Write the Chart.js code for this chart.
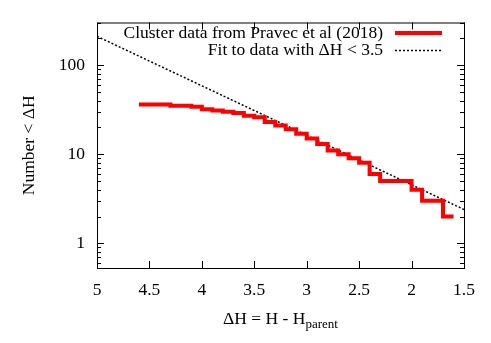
<!DOCTYPE html>
<html>
<head>
<meta charset="utf-8">
<script src="https://cdn.jsdelivr.net/npm/chart.js@4.4.1/dist/chart.umd.min.js"></script>
<style>
  html, body { margin: 0; padding: 0; background: #fff; }
  #wrap { width: 491px; height: 343px; }
</style>
</head>
<body>
<div id="wrap"><canvas id="c"></canvas></div>
<script>
// cumulative count, each level starts at its deltaH and runs to the next one
const stepH = [4.6, 4.3, 4.1, 4.0, 3.9, 3.8, 3.7, 3.6, 3.5, 3.4, 3.3, 3.2, 3.1, 3.0, 2.9, 2.8, 2.7, 2.6, 2.5, 2.4, 2.3, 2.0, 1.9, 1.7, 1.6];
const stepN = [36, 35, 34, 32, 31, 30, 29, 27, 26, 23, 21, 19, 17, 15, 13, 11, 10, 9, 8, 6, 5, 4, 3, 2, 2];
// fit line end points
const fitH = [5, 1.5];
const fitN = [210, 2.4];
const xTicks = [5, 4.5, 4, 3.5, 3, 2.5, 2, 1.5];
const yTicks = [1, 10, 100];
const seriesNames = ['Cluster data from Pravec et al (2018)', 'Fit to data with \u0394H < 3.5'];

const FONT = 'Liberation Serif';
const FS = 17.5;

// gnuplot style frame, inward ticks, legend and x title
const gnuFrame = {
  id: 'gnuFrame',
  afterDraw(chart) {
    const ctx = chart.ctx;
    const a = chart.chartArea;
    const xs = chart.scales.x, ys = chart.scales.y;
    ctx.save();
    ctx.strokeStyle = '#000';
    ctx.lineWidth = 1;
    ctx.strokeRect(a.left + 0.5, a.top + 0.5, a.right - a.left, a.bottom - a.top);
    ctx.beginPath();
    xTicks.forEach(v => {
      const px = Math.round(xs.getPixelForValue(v)) + 0.5;
      ctx.moveTo(px, a.bottom); ctx.lineTo(px, a.bottom - 7);
      ctx.moveTo(px, a.top); ctx.lineTo(px, a.top + 7);
    });
    for (let e = -1; e <= 2; e++) {
      for (let m = 1; m <= 9; m++) {
        const v = m * Math.pow(10, e);
        if (v < ys.min || v > ys.max) continue;
        const len = m === 1 ? 7 : 4;
        const py = Math.round(ys.getPixelForValue(v)) + 0.5;
        ctx.moveTo(a.left, py); ctx.lineTo(a.left + len, py);
        ctx.moveTo(a.right, py); ctx.lineTo(a.right - len, py);
      }
    }
    ctx.stroke();

    // legend
    ctx.font = FS + 'px "' + FONT + '"';
    ctx.fillStyle = '#000';
    ctx.textAlign = 'right';
    ctx.textBaseline = 'middle';
    ctx.fillText(seriesNames[0], 383, 33);
    ctx.fillText(seriesNames[1], 383, 50);
    ctx.strokeStyle = '#ff0000';
    ctx.lineWidth = 4;
    ctx.beginPath(); ctx.moveTo(395, 33); ctx.lineTo(442, 33); ctx.stroke();
    ctx.strokeStyle = '#000';
    ctx.lineWidth = 1.5;
    ctx.setLineDash([2, 2]);
    ctx.beginPath(); ctx.moveTo(395, 50.5); ctx.lineTo(442, 50.5); ctx.stroke();
    ctx.setLineDash([]);

    // x title with subscript
    const main = '\u0394H = H - H', sub = 'parent';
    ctx.textAlign = 'left';
    ctx.textBaseline = 'alphabetic';
    ctx.font = FS + 'px "' + FONT + '"';
    const w1 = ctx.measureText(main).width;
    ctx.font = '13px "' + FONT + '"';
    const w2 = ctx.measureText(sub).width;
    const x0 = (a.left + a.right) / 2 - (w1 + w2) / 2;
    ctx.font = FS + 'px "' + FONT + '"';
    ctx.fillText(main, x0, 324);
    ctx.font = '13px "' + FONT + '"';
    ctx.fillText(sub, x0 + w1, 328);
    ctx.restore();
  }
};

new Chart(document.getElementById('c'), {
  type: 'line',
  data: {
    datasets: [
      {
        label: seriesNames[0],
        data: stepH.map((h, i) => ({ x: h, y: stepN[i] })),
        borderColor: '#ff0000',
        borderWidth: 4,
        stepped: 'before',
        pointRadius: 0,
        fill: false
      },
      {
        label: seriesNames[1],
        data: fitH.map((h, i) => ({ x: h, y: fitN[i] })),
        borderColor: '#000',
        borderWidth: 1.5,
        borderDash: [2, 2],
        pointRadius: 0,
        fill: false
      }
    ]
  },
  options: {
    responsive: true,
    maintainAspectRatio: false,
    animation: false,
    layout: { padding: { top: 20, right: 27, left: 0, bottom: 0 } },
    plugins: {
      legend: { display: false },
      tooltip: { enabled: false }
    },
    scales: {
      x: {
        type: 'linear',
        reverse: true,
        min: 1.5,
        max: 5,
        afterBuildTicks: s => { s.ticks = xTicks.map(v => ({ value: v })); },
        afterFit: s => { s.height = 75; },
        grid: { display: false, drawTicks: false },
        border: { display: false },
        ticks: {
          color: '#000',
          padding: 12,
          font: { family: FONT, size: FS },
          callback: v => String(v)
        }
      },
      y: {
        type: 'logarithmic',
        min: 0.53,
        max: 300,
        afterBuildTicks: s => { s.ticks = yTicks.map(v => ({ value: v })); },
        afterFit: s => { s.width = 97; },
        grid: { display: false, drawTicks: false },
        border: { display: false },
        ticks: {
          color: '#000',
          padding: 12,
          font: { family: FONT, size: FS },
          callback: v => String(v)
        },
        title: {
          display: true,
          text: 'Number < \u0394H',
          color: '#000',
          font: { family: FONT, size: FS },
          padding: { top: 19, bottom: 0 }
        }
      }
    }
  },
  plugins: [gnuFrame]
});
</script>
</body>
</html>
